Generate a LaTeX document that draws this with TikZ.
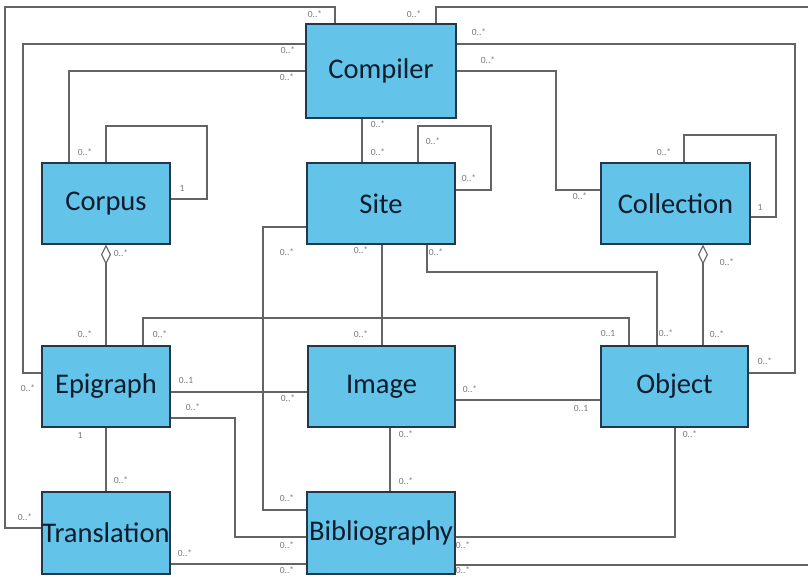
\documentclass[tikz,border=0pt]{standalone}
\usepackage{fontspec}
\setmainfont{Carlito}
\usetikzlibrary{arrows.meta}
\definecolor{boxfill}{RGB}{99,195,232}
\definecolor{boxline}{RGB}{35,55,75}
\definecolor{boxtext}{RGB}{15,28,45}
\definecolor{conn}{RGB}{100,100,100}
\definecolor{labc}{RGB}{120,120,120}
\tikzset{
  cls/.style={draw=boxline, fill=boxfill, line width=1.3pt, text=boxtext,
    font=\fontsize{28.5}{30}\selectfont, inner sep=0pt},
  conn/.style={draw=conn, line width=1.2pt},
  lab/.style={text=labc, font=\fontsize{9.5}{10}\selectfont, inner sep=0pt},
  agg/.style={conn, {Diamond[open, fill=white, length=20pt, width=10pt, line width=1.1pt]}-}
}
\newcommand{\lbl}[3]{\node[lab] (#1) at (#2) {#3};}
\begin{document}
\begin{tikzpicture}[x=1pt, y=-1pt]
\useasboundingbox (0,0) rectangle (808,576);

% classes
\node[cls, minimum width=150pt, minimum height=94pt] (Compiler) at (381,71) {Compiler};
\node[cls, minimum width=128pt, minimum height=81pt] (Corpus) at (106,203.5) {Corpus};
\node[cls, minimum width=148pt, minimum height=81pt] (Site) at (381,203.5) {Site};
\node[cls, minimum width=149pt, minimum height=81pt] (Collection) at (675.5,203.5) {Collection};
\node[cls, minimum width=128pt, minimum height=81pt] (Epigraph) at (106,386.5) {Epigraph};
\node[cls, minimum width=147pt, minimum height=81pt] (Image) at (381.5,386.5) {Image};
\node[cls, minimum width=147pt, minimum height=81pt] (Object) at (674.5,386.5) {Object};
\node[cls, minimum width=128pt, minimum height=82pt] (Translation) at (106,533) {Translation};
\node[cls, minimum width=148pt, minimum height=82pt] (Bibliography) at (381,533) {Bibliography};

% free ends of the connector that leaves the picture on the right
\coordinate (edgeTop) at (808,7);
\coordinate (edgeBot) at (808,565);

% Translation -- Compiler (outer left frame)
\draw[conn] (Translation.west |- 0,528) -- (5,528) -- (5,7) -- (335,7) -- (Compiler.north -| 335,0);
% Epigraph -- Compiler
\draw[conn] (Epigraph.west |- 0,373) -- (23,373) -- (23,44) -- (Compiler.west |- 0,44);
% Corpus -- Compiler
\draw[conn] (Corpus.north -| 69,0) -- (69,71) -- (Compiler.west |- 0,71);
% Corpus self
\draw[conn] (Corpus.north) -- (106,126) -- (207,126) -- (207,199) -- (Corpus.east |- 0,199);
% Compiler -- Site
\draw[conn] (Compiler.south -| 362,0) -- (Site.north -| 362,0);
% Site self
\draw[conn] (Site.north -| 418,0) -- (418,126) -- (491,126) -- (491,190) -- (Site.east |- 0,190);
% Compiler -- Collection
\draw[conn] (Compiler.east |- 0,71) -- (556,71) -- (556,190) -- (Collection.west |- 0,190);
% Compiler -- Object
\draw[conn] (Compiler.east |- 0,44) -- (795,44) -- (795,373) -- (Object.east |- 0,373);
% Compiler -- Bibliography (runs off the right edge)
\draw[conn] (Compiler.north -| 436,0) -- (436,7) -- (edgeTop);
\draw[conn] (Bibliography.east |- 0,565) -- (edgeBot);
% Collection self
\draw[conn] (Collection.north -| 684,0) -- (684,135) -- (776,135) -- (776,217) -- (Collection.east |- 0,217);
% Collection -- Object (aggregation)
\draw[agg] (Collection.south -| 703,0) -- (Object.north -| 703,0);
% Corpus -- Epigraph (aggregation)
\draw[agg] (Corpus.south) -- (Epigraph.north);
% Site -- Image
\draw[conn] (Site.south -| 382,0) -- (Image.north -| 382,0);
% Site -- Object
\draw[conn] (Site.south -| 427,0) -- (427,272) -- (657,272) -- (Object.north -| 657,0);
% Epigraph -- Object
\draw[conn] (Epigraph.north -| 143,0) -- (143,318) -- (629,318) -- (Object.north -| 629,0);
% Site -- Bibliography
\draw[conn] (Site.west |- 0,227) -- (263,227) -- (263,510) -- (Bibliography.west |- 0,510);
% Epigraph -- Image
\draw[conn] (Epigraph.east |- 0,392) -- (Image.west |- 0,392);
% Epigraph -- Bibliography
\draw[conn] (Epigraph.east |- 0,418) -- (235,418) -- (235,537) -- (Bibliography.west |- 0,537);
% Epigraph -- Translation
\draw[conn] (Epigraph.south) -- (Translation.north);
% Translation -- Bibliography
\draw[conn] (Translation.east |- 0,564) -- (Bibliography.west |- 0,564);
% Image -- Object
\draw[conn] (Image.east |- 0,400) -- (Object.west |- 0,400);
% Image -- Bibliography
\draw[conn] (Image.south -| 390,0) -- (Bibliography.north -| 390,0);
% Object -- Bibliography
\draw[conn] (Object.south -| 675,0) -- (675,537) -- (Bibliography.east |- 0,537);

% redraw classes on top of connectors
\node[cls, minimum width=150pt, minimum height=94pt] at (381,71) {Compiler};
\node[cls, minimum width=128pt, minimum height=81pt] at (106,203.5) {Corpus};
\node[cls, minimum width=148pt, minimum height=81pt] at (381,203.5) {Site};
\node[cls, minimum width=149pt, minimum height=81pt] at (675.5,203.5) {Collection};
\node[cls, minimum width=128pt, minimum height=81pt] at (106,386.5) {Epigraph};
\node[cls, minimum width=147pt, minimum height=81pt] at (381.5,386.5) {Image};
\node[cls, minimum width=147pt, minimum height=81pt] at (674.5,386.5) {Object};
\node[cls, minimum width=128pt, minimum height=82pt] at (106,533) {Translation};
\node[cls, minimum width=148pt, minimum height=82pt] at (381,533) {Bibliography};

% multiplicity labels
\lbl{a1}{25,517}{0..*}
\lbl{a2}{315,14}{0..*}
\lbl{a3}{28,388}{0..*}
\lbl{a4}{288,50}{0..*}
\lbl{a5}{85,152}{0..*}
\lbl{a6}{287,77}{0..*}
\lbl{a7}{182,188}{1}
\lbl{a8}{378,124}{0..*}
\lbl{a9}{378,152}{0..*}
\lbl{a10}{433,141}{0..*}
\lbl{a11}{469,178}{0..*}
\lbl{a12}{488,60}{0..*}
\lbl{a13}{580,196}{0..*}
\lbl{a14}{479,32}{0..*}
\lbl{a15}{765,361}{0..*}
\lbl{a16}{414,14}{0..*}
\lbl{a17}{463,570}{0..*}
\lbl{a18}{664,152}{0..*}
\lbl{a19}{760,207}{1}
\lbl{a20}{727,262}{0..*}
\lbl{a21}{717,334}{0..*}
\lbl{a22}{121,253}{0..*}
\lbl{a23}{85,334}{0..*}
\lbl{a24}{361,250}{0..*}
\lbl{a25}{361,334}{0..*}
\lbl{a26}{436,252}{0..*}
\lbl{a27}{666,333}{0..*}
\lbl{a28}{160,334}{0..*}
\lbl{a29}{608,333}{0..1}
\lbl{a30}{287,252}{0..*}
\lbl{a31}{287,498}{0..*}
\lbl{a32}{186,380}{0..1}
\lbl{a33}{288,398}{0..*}
\lbl{a34}{193,407}{0..*}
\lbl{a35}{287,545}{0..*}
\lbl{a36}{80,435}{1}
\lbl{a37}{121,480}{0..*}
\lbl{a38}{185,553}{0..*}
\lbl{a39}{287,570}{0..*}
\lbl{a40}{470,389}{0..*}
\lbl{a41}{581,408}{0..1}
\lbl{a42}{406,434}{0..*}
\lbl{a43}{406,481}{0..*}
\lbl{a44}{690,434}{0..*}
\lbl{a45}{463,545}{0..*}
\end{tikzpicture}
\end{document}
